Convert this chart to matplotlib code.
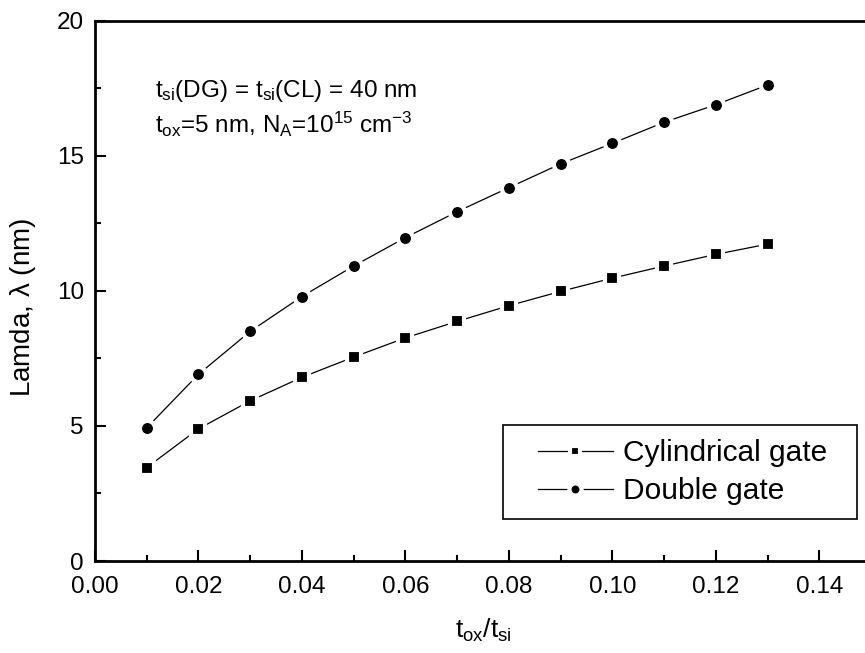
import numpy as np
import matplotlib
matplotlib.use("Agg")
import matplotlib.pyplot as plt
from matplotlib.patches import Rectangle
from matplotlib.ticker import MultipleLocator

plt.rcParams['font.family'] = ['Liberation Sans', 'DejaVu Sans']
plt.rcParams['mathtext.fontset'] = 'custom'
plt.rcParams['mathtext.rm'] = 'Liberation Sans'
plt.rcParams['mathtext.it'] = 'Liberation Sans'

# data
ratio = [0.01, 0.02, 0.03, 0.04, 0.05, 0.06, 0.07, 0.08, 0.09, 0.10, 0.11, 0.12, 0.13]
cyl_gate = [3.46, 4.89, 5.93, 6.80, 7.55, 8.26, 8.87, 9.45, 9.98, 10.47, 10.92, 11.35, 11.73]
dbl_gate = [4.93, 6.91, 8.50, 9.79, 10.92, 11.97, 12.93, 13.82, 14.70, 15.46, 16.24, 16.89, 17.62]

fig = plt.figure(figsize=(8.65, 6.53), dpi=100)
ax = fig.add_axes([95 / 865, 92 / 653, 776 / 865, 540.3 / 653])

# white marker edges give the little gaps between line and symbol
ax.plot(ratio, cyl_gate, '-', color='k', lw=0.9, marker='s', ms=9.8,
        mfc='k', mec='white', mew=3, label='Cylindrical gate')
ax.plot(ratio, dbl_gate, '-', color='k', lw=0.9, marker='o', ms=10.9,
        mfc='k', mec='white', mew=3, label='Double gate')

ax.set_xlim(0, 0.15)
ax.set_ylim(0, 20)
ax.xaxis.set_major_locator(MultipleLocator(0.02))
ax.xaxis.set_minor_locator(MultipleLocator(0.01))
ax.yaxis.set_major_locator(MultipleLocator(5))
ax.yaxis.set_minor_locator(MultipleLocator(2.5))
ax.xaxis.set_major_formatter(plt.FuncFormatter(lambda v, p: f"{v:.2f}"))
ax.tick_params(which='both', direction='in', width=1.5, top=False, right=False,
               labelsize=17.5)
ax.tick_params(which='major', length=8)
ax.tick_params(which='minor', length=4.5)
ax.tick_params(axis='x', pad=11)
ax.tick_params(axis='y', pad=8)
for s in ax.spines.values():
    s.set_linewidth(2)

ax.set_xlabel(r'$\mathregular{t_{ox}/t_{si}}$', fontsize=19, labelpad=13)
ax.set_ylabel(r'Lamda, $\lambda$ (nm)', fontsize=20)
ax.yaxis.set_label_coords(-0.073, 0.47)

ax.text(0.0116, 17.4, r'$\mathregular{t_{si}}$(DG) = $\mathregular{t_{si}}$(CL) = 40 nm',
        fontsize=17.5, va='center')
ax.text(0.0116, 16.15, r'$\mathregular{t_{ox}}$=5 nm, $\mathregular{N_A}$=10$^{15}$ cm$^{-3}$',
        fontsize=17.5, va='center')

leg = ax.legend(loc='center left', bbox_to_anchor=(0.571, 0.164), fontsize=21.5,
                frameon=False, markerscale=0.8, handlelength=2.5, borderpad=0,
                labelspacing=0.33, handletextpad=0.35, borderaxespad=0)
ax.add_patch(Rectangle((0.526, 0.0777), 0.456, 0.174, transform=ax.transAxes,
                       fill=False, ec='k', lw=1.2, zorder=4))

fig.savefig('out.png', dpi=100)
